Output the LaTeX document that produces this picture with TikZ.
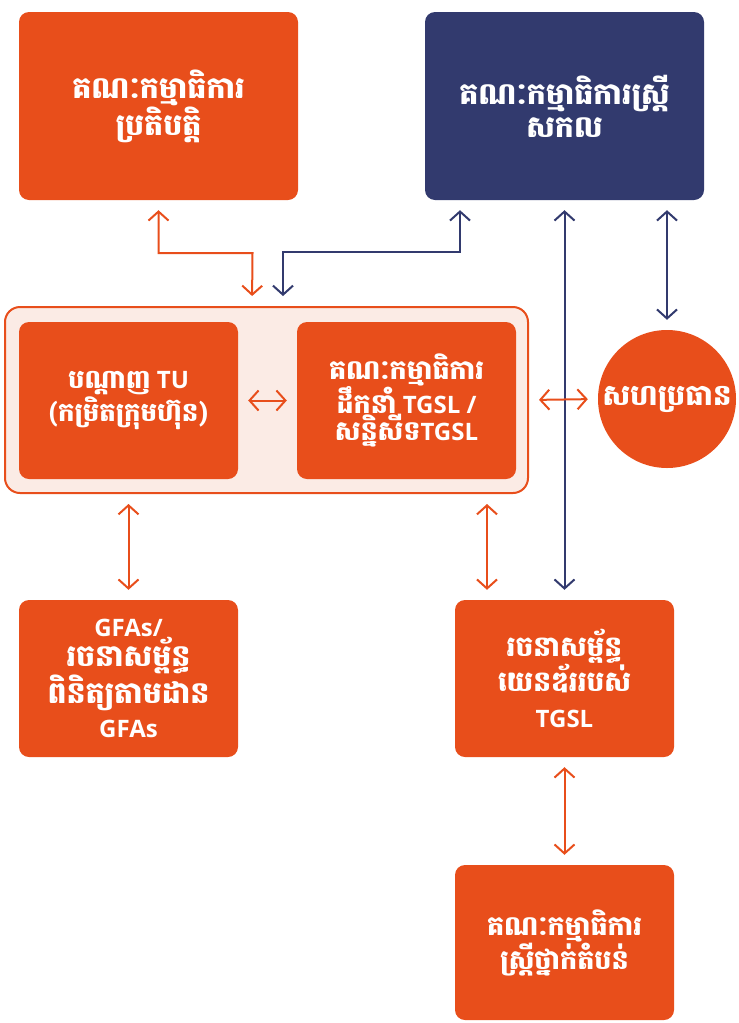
\documentclass[tikz,border=0pt]{standalone}
\usepackage{fontspec}
\setmainfont{Open Sans}
\newfontfamily\khmerfont[Script=Khmer]{Battambang}
\usepackage{tikz}
\usetikzlibrary{arrows.meta, positioning, calc}

\definecolor{tgorange}{HTML}{E84E1B}
\definecolor{tgnavy}{HTML}{323A6E}
\definecolor{tgpink}{HTML}{FBEBE5}

% Khmer run, optional size in pt
\newcommand{\km}[2][30]{{\khmerfont\bfseries\fontsize{#1}{\the\baselineskip}\selectfont #2}}

\tikzset{
  box/.style={rectangle, rounded corners=10pt, fill=tgorange, text=white,
    align=center, inner sep=0pt, font=\bfseries\fontsize{24}{28}\selectfont},
  bigbox/.style={box, minimum width=279pt, minimum height=188pt,
    font=\bfseries\fontsize{24}{33}\selectfont},
  smallbox/.style={box, minimum width=219pt, minimum height=157pt},
  frame/.style={rectangle, rounded corners=15pt, draw=tgorange, line width=2pt,
    fill=tgpink, minimum width=523pt, minimum height=186pt},
  barb/.tip={Straight Barb[length=9pt, width=20pt]},
  oarr/.style={draw=tgorange, line width=2pt, barb-barb,
    shorten >=10pt, shorten <=10pt},
  narr/.style={oarr, draw=tgnavy}
}

\begin{document}
\begin{tikzpicture}[x=1pt, y=1pt]
\useasboundingbox (0,0) rectangle (739,-1023);

% top row
\node[bigbox] (exec) at (158.5,-106) {\km{គណៈកម្មាធិការ}\\\km{ប្រតិបត្តិ}};
\node[bigbox, fill=tgnavy] (women) at (564.5,-106) {\km{គណៈកម្មាធិការស្ត្រី}\\\km{សកល}};

% middle row
\node[frame] (cont) at (266.5,-400) {};
\node[smallbox] (tunet) at (128.5,-400.5) {\km[26]{បណ្ដាញ} TU\\\km[26]{(កម្រិតក្រុមហ៊ុន)}};
\node[smallbox, font=\bfseries\fontsize{24}{27}\selectfont] (steer) at (406.5,-400.5)
  {\km[27]{គណៈកម្មាធិការ}\\\km[27]{ដឹកនាំ} TGSL /\\\km[27]{សន្និសីទ}TGSL};
\node[circle, fill=tgorange, text=white, minimum size=138pt, inner sep=0pt,
  font=\fontsize{24}{28}\selectfont] (cochair) at (667,-399) {\km[29]{សហប្រធាន}};

% lower rows
\node[smallbox, font=\bfseries\fontsize{24}{29}\selectfont] (gfa) at (128.5,-678.5)
  {GFAs/\\\km{រចនាសម្ព័ន្ធ}\\\km{ពិនិត្យតាមដាន}\\[5pt]GFAs};
\node[smallbox, font=\bfseries\fontsize{24}{31}\selectfont] (gender) at (564.5,-678.5)
  {\km[28]{រចនាសម្ព័ន្ធ}\\\km[28]{យេនឌ័ររបស់}\\[5pt]TGSL};
\node[smallbox, minimum height=155pt, font=\bfseries\fontsize{24}{29}\selectfont] (region) at (564.5,-942.5)
  {\km[27]{គណៈកម្មាធិការ}\\\km[27]{ស្ត្រីថ្នាក់តំបន់}};

% connectors
\coordinate (gtop) at ([xshift=-77.5]gender.north);
\draw[oarr] (exec.south) |- ++(94,-53) -- ([xshift=-14.5]cont.north);
\draw[narr] ([xshift=16.5]cont.north) -- ++(0,54) -| ([xshift=-104.5]women.south);
\draw[narr] (women.south) -- (gender.north);
\draw[narr] ([xshift=102.5]women.south) -- (cochair.north);
\draw[oarr] (tunet.east) -- (steer.west);
\draw[oarr] (cont.east) -- (cochair.west);
\draw[oarr] (cont.south -| gfa.north) -- (gfa.north);
\draw[oarr] (cont.south -| gtop) -- (gtop);
\draw[oarr] (gender.south) -- (region.north);

\end{tikzpicture}
\end{document}
